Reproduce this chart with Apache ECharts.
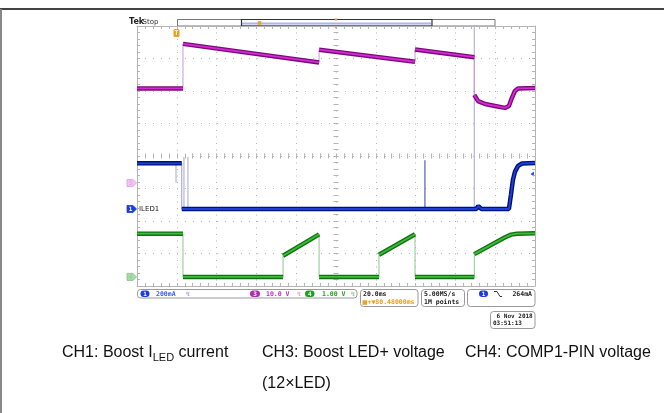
<!DOCTYPE html>
<html>
<head>
<meta charset="utf-8">
<script src="https://cdn.jsdelivr.net/npm/echarts@6/dist/echarts.min.js"></script>
<style>
html, body { margin: 0; padding: 0; background: #fff; }
#mainChart { width: 664px; height: 413px; }
</style>
</head>
<body>
<div id="mainChart"></div>
<script>
// time axis: ms from the screen centre, 20 ms/div
// CH1: boost I_LED current (A)
var ch1Time = [-100, -77.5, -77.5, 70.5, 71.5, 73, 86.9, 87.9, 88.9, 89.9, 91.5, 93.5, 100];
var ch1Amp = [0.281, 0.281, 0, 0, 0.018, 0, 0, 0.086, 0.178, 0.228, 0.265, 0.28, 0.283];
// short glitches on CH1 (time, level before, peak)
var ch1SpikeTime = [-80.4, -76.4, -74.4, 69.5];
var ch1SpikeBase = [0.281, 0, 0, 0];
var ch1SpikePeak = [0.162, 0.32, 0.32, 1.2];
var ch1GlitchTime = [44.7];
var ch1GlitchBase = [0];
var ch1GlitchPeak = [0.30];

// CH3: boost LED+ voltage (V)
var ch3Time = [-100, -76.9, -76.9, -8.5, -8.5, 39.7, 39.7, 69.5, 69.5, 71.4, 74.9, 79.9, 84.9, 86.9, 88.4, 89.9, 91.5, 100];
var ch3Volt = [29.1, 29.1, 42.8, 37.1, 41.0, 37.3, 41.1, 38.7, 27.1, 25.2, 24.3, 23.7, 23.1, 23.7, 26.2, 28.3, 29.1, 29.2];

// CH4: COMP1 pin voltage (V)
var ch4Time = [-100, -76.9, -76.9, -26.6, -26.6, -8.5, -8.5, 21.6, 21.6, 39.7, 39.7, 69.5, 69.5, 85, 88, 91, 100];
var ch4Volt = [1.33, 1.33, 0, 0, 0.65, 1.31, 0, 0, 0.68, 1.31, 0, 0, 0.70, 1.22, 1.30, 1.33, 1.34];

// scope settings / readouts
var chDivScale = [0.2, 10, 1];
var chGroundDiv = [-1.63, -0.83, -3.72];
var chScaleText = ['200mA', '10.0 V', '1.00 V'];
var timeText = ['20.0ms', '+\u25BC80.48000ms'];
var acqText = ['5.00MS/s', '1M points'];
var trigText = '264mA';
var dateText = [' 6 Nov 2018', '03:51:13'];
var captions = ['CH1: Boost I{sub|LED} current', 'CH3: Boost LED+ voltage', 'CH4: COMP1-PIN voltage', '(12\u00D7LED)'];

var mono = "'DejaVu Sans Mono', monospace";
var grat = '#b4b4b4';

function pairs(t, v) {
  return t.map(function (x, i) { return [x, v[i]]; });
}
// break the thick trace where the signal jumps
function bands(t, v) {
  var out = [];
  for (var i = 0; i < t.length; i++) {
    if (i > 0 && t[i] === t[i - 1]) out.push([t[i], null]);
    out.push([t[i], v[i]]);
  }
  return out;
}
function spikes(t, base, peak) {
  var out = [];
  for (var i = 0; i < t.length; i++) {
    out.push([t[i], base[i]], [t[i], peak[i]], [t[i], null]);
  }
  return out;
}

function edgeAxis(pos, isX, split) {
  return {
    type: 'value', position: pos,
    min: isX ? -100 : -4, max: isX ? 100 : 4, interval: isX ? 20 : 1,
    axisLine: { show: true, onZero: false, lineStyle: { color: grat, width: 1 } },
    axisTick: { show: true, inside: true, length: 3, lineStyle: { color: grat } },
    minorTick: { show: true, splitNumber: 5, length: 3, lineStyle: { color: grat } },
    axisLabel: { show: false },
    splitLine: split ? { show: true, lineStyle: { color: grat, width: 1, type: isX ? [1, 5.5] : [1, 7] } } : { show: false }
  };
}
function centreAxis(isX, inside) {
  return {
    type: 'value', position: isX ? 'bottom' : 'left',
    min: isX ? -100 : -4, max: isX ? 100 : 4, interval: isX ? 20 : 1,
    axisLine: { show: false, onZero: true, onZeroAxisIndex: 0 },
    axisTick: { show: true, inside: inside, length: 2.5, lineStyle: { color: grat } },
    minorTick: { show: true, splitNumber: 5, length: 2.5, lineStyle: { color: grat } },
    axisLabel: { show: false },
    splitLine: { show: false }
  };
}
function chAxis(i) {
  return {
    type: 'value', show: false,
    min: (-4 - chGroundDiv[i]) * chDivScale[i],
    max: (4 - chGroundDiv[i]) * chDivScale[i],
    axisLine: { onZero: false }, splitLine: { show: false }
  };
}

function traceSeries(yIdx, t, v, edge, band, core) {
  var base = { type: 'line', xAxisIndex: 0, yAxisIndex: yIdx, symbol: 'none', silent: true, animation: false, connectNulls: false };
  return [
    Object.assign({}, base, { data: pairs(t, v), lineStyle: { width: 1, color: edge }, z: 3 }),
    Object.assign({}, base, { data: bands(t, v), lineStyle: { width: 4.5, color: band }, z: 4 }),
    Object.assign({}, base, { data: bands(t, v), lineStyle: { width: 1.8, color: core }, z: 5 })
  ];
}

var myChart = echarts.init(document.getElementById('mainChart'));

var series = [].concat(
  traceSeries(5, ch3Time, ch3Volt, '#c79ad6', '#7a0a7a', '#d52ad5'),
  traceSeries(6, ch4Time, ch4Volt, '#8cc88c', '#137013', '#36bf36'),
  traceSeries(4, ch1Time, ch1Amp, '#9a9ad4', '#00107a', '#1f40d8'),
  [
    { type: 'line', xAxisIndex: 0, yAxisIndex: 4, symbol: 'none', silent: true, animation: false,
      data: spikes(ch1SpikeTime, ch1SpikeBase, ch1SpikePeak), lineStyle: { width: 1.2, color: '#b4b4dc' }, z: 2 },
    { type: 'line', xAxisIndex: 0, yAxisIndex: 4, symbol: 'none', silent: true, animation: false,
      data: spikes(ch1GlitchTime, ch1GlitchBase, ch1GlitchPeak), lineStyle: { width: 1, color: '#3040b0' }, z: 2 }
  ]
);

var option = {
  backgroundColor: '#fff',
  animation: false,
  grid: { left: 137, top: 26, width: 398, height: 260, containLabel: false },
  xAxis: [edgeAxis('bottom', true, true), edgeAxis('top', true, false), centreAxis(true, false), centreAxis(true, true)],
  yAxis: [edgeAxis('left', false, true), edgeAxis('right', false, false), centreAxis(false, false), centreAxis(false, true),
    chAxis(0), chAxis(1), chAxis(2)],
  series: series
};
myChart.setOption(option);

// graphics: scope readouts, markers, captions
function txt(x, y, s, color, size, extra) {
  var st = { text: s, fill: color, fontSize: size, fontFamily: mono, fontWeight: 'bold', align: 'left', verticalAlign: 'middle' };
  if (extra) for (var k in extra) st[k] = extra[k];
  return { type: 'text', x: x, y: y, silent: true, style: st };
}
function box(x, y, w, h) {
  return { type: 'rect', silent: true, shape: { x: x, y: y, width: w, height: h, r: 3 }, style: { fill: '#fff', stroke: '#9a9a9a', lineWidth: 1 } };
}
function pill(x, y, w, color, label) {
  return [
    { type: 'rect', silent: true, shape: { x: x, y: y - 3.3, width: w, height: 6.6, r: 3.3 }, style: { fill: color } },
    txt(x + w / 2, y + 0.3, label, '#fff', 6, { align: 'center' })
  ];
}
function chMarker(y, fill, stroke, label, labelColor) {
  return [
    { type: 'polygon', silent: true, shape: { points: [[127, y - 3.5], [133, y - 3.5], [136.5, y], [133, y + 3.5], [127, y + 3.5]] },
      style: { fill: fill, stroke: stroke, lineWidth: 0.8 } },
    txt(130.5, y + 0.3, label, labelColor, 6, { align: 'center' })
  ];
}

var g1 = myChart.convertToPixel({ yAxisIndex: 4 }, 0);
var g3 = myChart.convertToPixel({ yAxisIndex: 5 }, 0);
var g4 = myChart.convertToPixel({ yAxisIndex: 6 }, 0);

var els = [];
// page frame
els.push({ type: 'line', silent: true, shape: { x1: 0, y1: 9, x2: 664, y2: 9 }, style: { stroke: '#444', lineWidth: 2 } });
els.push({ type: 'line', silent: true, shape: { x1: 1, y1: 9, x2: 1, y2: 413 }, style: { stroke: '#888', lineWidth: 2 } });

// header
els.push(txt(129, 22, 'Tek', '#222', 8, { fontFamily: "'DejaVu Sans', sans-serif", fontWeight: 'bold' }));
els.push(txt(142.5, 22, 'Stop', '#333', 7, { fontFamily: "'DejaVu Sans', sans-serif", fontWeight: 'normal' }));
els.push({ type: 'rect', silent: true, shape: { x: 177.5, y: 19.5, width: 317.5, height: 6.5 }, style: { fill: '#fff', stroke: '#777', lineWidth: 1 } });
els.push({ type: 'rect', silent: true, shape: { x: 242, y: 22.5, width: 189.5, height: 2 }, style: { fill: '#aab4f0' } });
els.push({ type: 'rect', silent: true, shape: { x: 241.5, y: 19.5, width: 190.5, height: 6.5 }, style: { fill: null, stroke: '#333', lineWidth: 1.2 } });
els.push({ type: 'rect', silent: true, shape: { x: 257.8, y: 21.2, width: 3.5, height: 3.5 }, style: { fill: '#f0a020' } });
els.push({ type: 'polygon', silent: true, shape: { points: [[334, 18.5], [338, 18.5], [336, 21]] }, style: { fill: '#f0a020' } });
els.push({ type: 'polygon', silent: true, shape: { points: [[334, 26.2], [338, 26.2], [336, 28.8]] }, style: { fill: '#f0a020' } });

// trigger position marker
els.push({ type: 'rect', silent: true, shape: { x: 173.5, y: 29, width: 6, height: 8, r: 1.5 }, style: { fill: '#f0a020' } });
els.push(txt(176.5, 33.2, 'T', '#fff', 6.5, { align: 'center' }));

// channel ground markers
els = els.concat(chMarker(g3, '#f2c4f2', '#d8a0d8', '3', '#e8a8e8'));
els = els.concat(chMarker(g1, '#1c3cd8', '#1c3cd8', '1', '#fff'));
els.push(txt(139, g1 + 0.3, 'ILED1', '#222', 7, { fontFamily: "'DejaVu Sans', sans-serif", fontWeight: 'normal' }));
els = els.concat(chMarker(g4, '#a8dca8', '#88c088', '4', '#90d090'));

// trigger level arrow
els.push({ type: 'polygon', silent: true, shape: { points: [[530.5, 174], [534, 171.5], [534, 176.5]] }, style: { fill: '#3050e0' } });

// status row
els.push(box(137.5, 289.5, 219.5, 8.5));
els = els.concat(pill(140.5, 293.7, 9, '#1c3cd8', '1'));
els.push(txt(156, 294, chScaleText[0], '#3a5ae8', 6.5));
els.push(txt(186, 294, '\u21AF', '#98a4e8', 6.5));
els = els.concat(pill(250, 293.7, 10, '#b02cb0', '3'));
els.push(txt(266, 294, chScaleText[1], '#c030c0', 6.5));
els.push(txt(297, 294, '\u21AF', '#d8a0d8', 6.5));
els = els.concat(pill(305, 293.7, 9.5, '#20a020', '4'));
els.push(txt(322, 294, chScaleText[2], '#20a020', 6.5));
els.push(txt(351, 294, '\u21AF', '#88c888', 6.5));

els.push(box(360.5, 289.5, 57.5, 17));
els.push(txt(363, 294, timeText[0], '#222', 6.5));
els.push({ type: 'rect', silent: true, shape: { x: 362.5, y: 300.3, width: 4.5, height: 4.5 }, style: { fill: '#f0a020' } });
els.push(txt(367.5, 302.8, timeText[1], '#f09a10', 6.5));

els.push(box(421.5, 289.5, 43, 17));
els.push(txt(424, 294, acqText[0], '#222', 6.5));
els.push(txt(424, 302.8, acqText[1], '#222', 6.5));

els.push(box(467.5, 289.5, 67.5, 17));
els = els.concat(pill(479, 293.7, 9, '#1c3cd8', '1'));
els.push({ type: 'polyline', silent: true, shape: { points: [[494, 291.5], [497, 291.5], [500, 296.5], [502, 296.5]] }, style: { stroke: '#333', lineWidth: 1, fill: null } });
els.push(txt(532, 294, trigText, '#222', 6.5, { align: 'right' }));

els.push(box(490.5, 311.5, 44.5, 17));
els.push(txt(493, 316.3, dateText[0], '#222', 6));
els.push(txt(493, 323.8, dateText[1], '#222', 6));

// captions
var capStyle = { fontFamily: "'Liberation Sans', Arial, sans-serif", fontWeight: 'normal', lineHeight: 20,
  rich: { sub: { fontSize: 11, lineHeight: 12, verticalAlign: 'bottom', fontFamily: "'Liberation Sans', Arial, sans-serif", fill: '#111' } } };
els.push(txt(62, 353, captions[0], '#111', 16, capStyle));
els.push(txt(262, 353, captions[1], '#111', 16, capStyle));
els.push(txt(465, 353, captions[2], '#111', 16, capStyle));
els.push(txt(262, 384, captions[3], '#111', 16, capStyle));

myChart.setOption({ graphic: { elements: els } });
</script>
</body>
</html>
